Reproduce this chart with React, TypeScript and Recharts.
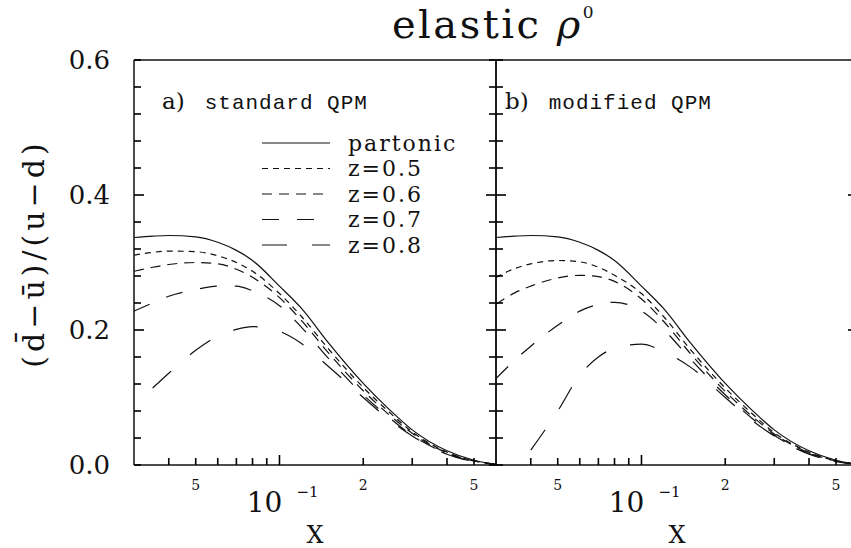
import React from 'react';
import { LineChart, Line, XAxis, YAxis, Legend } from 'recharts';

const xValues = [0.03, 0.035, 0.04, 0.05, 0.06, 0.07, 0.08, 0.1, 0.12, 0.15, 0.2, 0.25, 0.3, 0.4, 0.5, 0.6];

// a) standard QPM
const partonicA = [0.337, 0.339, 0.340, 0.338, 0.330, 0.318, 0.303, 0.265, 0.232, 0.181, 0.121, 0.081, 0.052, 0.021, 0.007, 0.001];
const z05A = [0.311, 0.315, 0.317, 0.316, 0.310, 0.300, 0.287, 0.254, 0.220, 0.172, 0.115, 0.077, 0.049, 0.019, 0.006, 0.001];
const z06A = [0.287, 0.293, 0.297, 0.300, 0.298, 0.290, 0.278, 0.248, 0.214, 0.166, 0.110, 0.073, 0.047, 0.018, 0.006, 0.001];
const z07A = [0.228, 0.240, 0.250, 0.260, 0.265, 0.265, 0.258, 0.236, 0.204, 0.158, 0.104, 0.069, 0.044, 0.017, 0.005, 0.001];
const z08A = [null, 0.114, 0.136, 0.170, 0.191, 0.201, 0.205, 0.198, 0.180, 0.146, 0.100, 0.066, 0.043, 0.016, 0.005, 0.001];

// b) modified QPM
const partonicB = [0.337, 0.339, 0.340, 0.338, 0.330, 0.318, 0.303, 0.265, 0.232, 0.181, 0.121, 0.081, 0.052, 0.021, 0.007, 0.001];
const z05B = [0.278, 0.291, 0.298, 0.303, 0.301, 0.293, 0.281, 0.254, 0.220, 0.171, 0.114, 0.076, 0.048, 0.019, 0.006, 0.001];
const z06B = [0.238, 0.255, 0.265, 0.277, 0.281, 0.279, 0.272, 0.246, 0.213, 0.165, 0.109, 0.072, 0.046, 0.018, 0.006, 0.001];
const z07B = [0.128, 0.155, 0.176, 0.207, 0.228, 0.238, 0.241, 0.228, 0.201, 0.157, 0.104, 0.069, 0.044, 0.017, 0.005, 0.001];
const z08B = [null, null, 0.022, 0.080, 0.133, 0.160, 0.173, 0.179, 0.168, 0.145, 0.100, 0.066, 0.043, 0.016, 0.005, 0.001];

const seriesKeys = ['partonic', 'z05', 'z06', 'z07', 'z08'];
const seriesNames = ['partonic', 'z=0.5', 'z=0.6', 'z=0.7', 'z=0.8'];

const xTicks = [0.04, 0.05, 0.06, 0.07, 0.08, 0.09, 0.1, 0.2, 0.3, 0.4, 0.5];
const xLabelTicks = [0.05, 0.1, 0.2, 0.5];
const xLabelText = ['5', '10', '2', '5'];
const yTicks = [0, 0.04, 0.08, 0.12, 0.16, 0.2, 0.24, 0.28, 0.32, 0.36, 0.4, 0.44, 0.48, 0.52, 0.56, 0.6];
const yLabelTicks = [0, 0.2, 0.4, 0.6];

const dashes: Record<string, string> = { partonic: '', z05: '6 5', z06: '10 7', z07: '17 18', z08: '25 25' };

const build = (cols: (number | null)[][]) =>
  xValues.map((x, i) => {
    const row: any = { x };
    seriesKeys.forEach((k, j) => { row[k] = cols[j][i]; });
    return row;
  });

const dataA = build([partonicA, z05A, z06A, z07A, z08A]);
const dataB = build([partonicB, z05B, z06B, z07B, z08B]);

const SERIF = '"DejaVu Serif", serif';
const MONO = '"Liberation Mono", monospace';
const INK = '#111';
const TICK_INK = '#000';
const near = (a: number, b: number) => Math.abs(a - b) < 1e-9;

// tickSize/tickMargin are 0, so x, y arrive on the frame line itself.
// inward tick marks drawn as thin filled rects
const XTick = (props: any) => {
  const { x, y, payload, side } = props;
  const v = payload.value;
  const len = near(v, 0.1) ? 10 : 7;
  const dir = side === 'bottom' ? -1 : 1;
  const li = xLabelTicks.findIndex((t) => near(t, v));
  return (
    <g>
      <rect x={x - 0.8} y={dir < 0 ? y - len : y} width={1.6} height={len} fill={TICK_INK} />
      {side === 'bottom' && li >= 0 && (near(v, 0.1) ? (
        <g fill={INK} fontFamily={SERIF}>
          <text x={x - 15} y={y + 47} fontSize={28} textAnchor="middle">{xLabelText[li]}</text>
          <text x={x + 17} y={y + 32} fontSize={15} textAnchor="start">−1</text>
        </g>
      ) : (
        <text x={x} y={y + 25} fontSize={14} textAnchor="middle" fill={INK} fontFamily={SERIF}>{xLabelText[li]}</text>
      ))}
    </g>
  );
};

const YTick = (props: any) => {
  const { x, y, payload, side, labels } = props;
  const v = payload.value;
  const len = near(v, 0.2) || near(v, 0.4) ? 10 : 7;
  const dir = side === 'left' ? 1 : -1;
  const showLabel = labels && yLabelTicks.some((t) => near(t, v));
  return (
    <g>
      <rect x={dir > 0 ? x : x - len} y={y - 0.8} width={len} height={1.6} fill={TICK_INK} />
      {showLabel && (
        <text x={x - 24} y={y} fontSize={26} textAnchor="end" dominantBaseline="central" fill={INK} fontFamily={SERIF}>
          {v.toFixed(1)}
        </text>
      )}
    </g>
  );
};

const XLabel = ({ viewBox }: any) => (
  <text x={viewBox.x + viewBox.width / 2} y={viewBox.y + 78} fontSize={24} textAnchor="middle" fill={INK} fontFamily={SERIF}>
    X
  </text>
);

const YLabel = ({ viewBox }: any) => {
  const cx = 33;
  const cy = viewBox.y + viewBox.height / 2 - 9;
  return (
    <text x={cx} y={cy} transform={`rotate(-90 ${cx} ${cy})`} fontSize={30} letterSpacing={4} textAnchor="middle"
      dominantBaseline="central" fill={INK} fontFamily={SERIF}>
      (d&#x304;−ū)/(u−d)
    </text>
  );
};

const LegendBox = ({ payload }: any) => (
  <svg width={240} height={130} style={{ overflow: 'visible' }}>
    {(payload || []).map((entry: any, i: number) => {
      const cy = 13 + i * 25.5;
      return (
        <g key={entry.dataKey}>
          <line x1={0} y1={cy} x2={68} y2={cy} stroke={INK} strokeWidth={1.2} strokeDasharray={dashes[entry.dataKey]} />
          <text x={86} y={cy} dominantBaseline="central" fontSize={22} letterSpacing={2} fill={INK} fontFamily={SERIF}>
            {entry.value}
          </text>
        </g>
      );
    })}
  </svg>
);

const renderXTick = (side: string) => (p: any) => <XTick {...p} side={side} />;
const renderYTick = (side: string, labels: boolean) => (p: any) => <YTick {...p} side={side} labels={labels} />;

const frame = { stroke: INK, strokeWidth: 1.5 };

const Panel = ({ data, left, width, yLabels, legend, tag, title }: any) => (
  <div style={{ position: 'absolute', left, top: 0 }}>
    <LineChart width={width} height={548} data={data} margin={{ top: 40, right: 0, bottom: 63, left: yLabels ? 114 : 0 }}>
      <XAxis xAxisId="b" dataKey="x" type="number" scale="log" domain={[0.03, 0.6]} allowDataOverflow ticks={xTicks}
        interval={0} height={20} tickSize={0} tickMargin={0} axisLine={frame} tickLine={false}
        tick={renderXTick('bottom')} label={<XLabel />} />
      <XAxis xAxisId="t" orientation="top" type="number" scale="log" domain={[0.03, 0.6]} allowDataOverflow ticks={xTicks}
        interval={0} height={20} tickSize={0} tickMargin={0} axisLine={frame} tickLine={false}
        tick={renderXTick('top')} />
      <YAxis yAxisId="l" type="number" domain={[0, 0.6]} allowDataOverflow ticks={yTicks} interval={0} width={20}
        tickSize={0} tickMargin={0} axisLine={frame} tickLine={false}
        tick={renderYTick('left', !!yLabels)} label={yLabels ? <YLabel /> : undefined} />
      <YAxis yAxisId="r" orientation="right" type="number" domain={[0, 0.6]} allowDataOverflow ticks={yTicks} interval={0}
        width={4} tickSize={0} tickMargin={0} axisLine={frame} tickLine={false}
        tick={renderYTick('right', false)} />
      {seriesKeys.map((k, i) => (
        <Line key={k} xAxisId="b" yAxisId="l" dataKey={k} name={seriesNames[i]} type="monotone" stroke={INK}
          strokeWidth={1.2} strokeDasharray={dashes[k] || undefined} dot={false} activeDot={false}
          isAnimationActive={false} />
      ))}
      {legend && (
        <Legend layout="vertical" align="center" verticalAlign="middle" content={<LegendBox />}
          wrapperStyle={{ left: 262, top: 130, width: 240, height: 130 }} />
      )}
    </LineChart>
    <div style={{ position: 'absolute', left: (yLabels ? 162 : 29), top: 88, whiteSpace: 'nowrap', color: INK }}>
      <span style={{ fontFamily: SERIF, fontSize: 23 }}>{tag}</span>
      <span style={{ fontFamily: MONO, fontSize: 21, marginLeft: 20, letterSpacing: 1 }}>{title}</span>
    </div>
  </div>
);

export default function App() {
  return (
    <div style={{ position: 'absolute', left: 0, top: 0, width: 851, height: 548, overflow: 'hidden', background: '#fff' }}>
      <svg width={851} height={548} style={{ position: 'absolute', left: 0, top: 0, overflow: 'visible', pointerEvents: 'none' }}>
        <text x={494} y={38} fontSize={40} letterSpacing={2.5} textAnchor="middle" fill={INK} fontFamily={SERIF}>
          elastic <tspan fontStyle="italic">ρ</tspan><tspan fontSize={17} dy={-20}>0</tspan>
        </text>
      </svg>
      <Panel data={dataA} left={0} width={500} yLabels legend tag="a)" title="standard QPM" />
      <Panel data={dataB} left={476} width={386} tag="b)" title="modified QPM" />
    </div>
  );
}
